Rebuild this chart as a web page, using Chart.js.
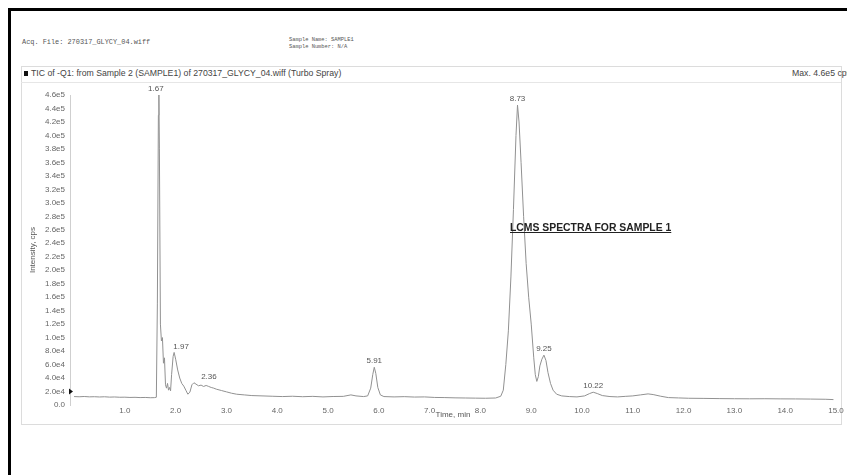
<!DOCTYPE html>
<html>
<head>
<meta charset="utf-8">
<title>LCMS TIC - SAMPLE1</title>
<script src="https://cdn.jsdelivr.net/npm/chart.js@4.4.1/dist/chart.umd.min.js"></script>
<style>
  html, body { margin: 0; padding: 0; background: #fff; }
  #page { position: relative; width: 847px; height: 475px; overflow: hidden; background: #fff; }
  #frame { position: absolute; left: 8px; top: 8px; width: 860px; height: 480px;
           border-top: 3px solid #000; border-left: 3px solid #000; }
  #panel { position: absolute; left: 21px; top: 66px; width: 819px; height: 357px;
           border: 1px solid #dcdcdc; }
  #panelHead { position: absolute; left: 21px; top: 82px; width: 820px; height: 0;
               border-top: 1px solid #e6e6e6; }
  canvas { position: absolute; left: 0; top: 0; }
  .mono { position: absolute; font-family: "Liberation Mono", "DejaVu Sans Mono", monospace;
          color: #555; white-space: pre; line-height: 7px; }
  .sans { position: absolute; font-family: "Liberation Sans", Arial, sans-serif;
          font-size: 8.7px; color: #444; white-space: pre; }
  #note { position: absolute; left: 510px; top: 222px; font-family: "Liberation Sans", Arial, sans-serif;
          font-weight: bold; font-size: 10.4px; color: #222; text-decoration: underline; white-space: pre; }
  #sq { display: inline-block; width: 4px; height: 5px; background: #111; margin-right: 3px; vertical-align: 0px; }
</style>
</head>
<body>
<div id="page">
  <div id="frame"></div>
  <div id="panel"></div>
  <div id="panelHead"></div>
  <div class="mono" style="left:22px; top:39px; font-size:6.9px;">Acq. File: 270317_GLYCY_04.wiff</div>
  <div class="mono" style="left:289px; top:37px; font-size:5.4px;">Sample Name: SAMPLE1
Sample Number: N/A</div>
  <div class="sans" style="left:24px; top:68px;"><span id="sq"></span>TIC of -Q1: from Sample 2 (SAMPLE1) of 270317_GLYCY_04.wiff (Turbo Spray)</div>
  <div class="sans" style="left:792px; top:68px;">Max. 4.6e5 cps</div>
  <canvas id="tic" width="847" height="475"></canvas>
  <div id="note">LCMS SPECTRA FOR SAMPLE 1</div>
</div>
<script>
// Total ion chromatogram: retention time (min) and intensity (cps)
const retentionTimes = [
  0.00, 0.10, 0.20, 0.30, 0.40, 0.50, 0.60, 0.70, 0.80, 0.90,
  1.00, 1.10, 1.20, 1.30, 1.40, 1.50, 1.58, 1.62, 1.64, 1.66,
  1.67, 1.68, 1.70, 1.72, 1.74, 1.76, 1.78, 1.80, 1.82, 1.84,
  1.86, 1.88, 1.90, 1.92, 1.95, 1.97, 2.00, 2.04, 2.08, 2.12,
  2.16, 2.20, 2.24, 2.28, 2.32, 2.36, 2.40, 2.45, 2.50, 2.55,
  2.60, 2.65, 2.70, 2.75, 2.80, 2.90, 3.00, 3.10, 3.20, 3.35,
  3.50, 3.70, 3.90, 4.10, 4.30, 4.50, 4.70, 4.90, 5.10, 5.30,
  5.45, 5.55, 5.70, 5.78, 5.84, 5.88, 5.91, 5.94, 5.98, 6.03,
  6.10, 6.30, 6.50, 6.70, 6.90, 7.10, 7.30, 7.50, 7.70, 7.90,
  8.10, 8.30, 8.40, 8.45, 8.50, 8.55, 8.60, 8.65, 8.70, 8.73,
  8.76, 8.80, 8.85, 8.90, 8.95, 9.00, 9.05, 9.08, 9.11, 9.14,
  9.17, 9.21, 9.25, 9.29, 9.33, 9.38, 9.43, 9.50, 9.60, 9.75,
  9.90, 10.05, 10.15, 10.22, 10.30, 10.40, 10.55, 10.70, 10.85, 11.00,
  11.15, 11.30, 11.40, 11.55, 11.70, 11.90, 12.10, 12.40, 12.70, 13.00,
  13.30, 13.60, 13.90, 14.20, 14.50, 14.80, 14.95
];
const intensities = [
  12500, 12200, 12600, 12100, 12300, 11900, 12200, 11700, 11900, 11500,
  11600, 11200, 11400, 11000, 11200, 10800, 10900, 11500, 150000, 430000,
  460000, 380000, 120000, 95000, 100000, 62000, 70000, 30000, 25000, 32000,
  22000, 26000, 21000, 45000, 72000, 78000, 68000, 52000, 40000, 32000,
  28000, 22000, 16000, 19000, 30000, 33000, 31000, 28500, 29500, 27500,
  29000, 27500, 26000, 25000, 23500, 21500, 19500, 17500, 16000, 15000,
  14000, 13500, 13000, 12500, 13000, 12300, 12800, 12000, 12600, 12800,
  15000, 13500, 12500, 13500, 25000, 45000, 56000, 47000, 26000, 15000,
  12500, 12000, 12400, 11800, 12000, 11200, 11000, 10600, 10400, 10200,
  10000, 10400, 13000, 22000, 60000, 110000, 190000, 290000, 400000, 445000,
  420000, 360000, 280000, 210000, 160000, 120000, 70000, 45000, 35000, 42000,
  58000, 68000, 74000, 66000, 48000, 32000, 22000, 16000, 13500, 12500,
  12000, 13500, 17000, 19000, 17000, 14000, 12500, 12000, 12800, 13500,
  15000, 16500, 15500, 13000, 11000, 10500, 10000, 9800, 9500, 9300,
  9200, 9300, 9100, 9000, 8800, 8500, 8000
];

// Apex retention times that get a label
const peakTimes = [1.67, 1.97, 2.36, 5.91, 8.73, 9.25, 10.22];

// Axis ticks
const xTickValues = [1, 2, 3, 4, 5, 6, 7, 8, 9, 10, 11, 12, 13, 14, 15];
const yTickMax = 460000;
const yTickStep = 20000;

// Horizontal nudges (px) for labels that would otherwise sit on the trace
const peakLabelNudge = { '1.97': 7, '2.36': 15, '1.67': -3 };

function sciLabel(v) {
  if (v === 0) return '0.0';
  const e = Math.floor(Math.log10(v) + 1e-9);
  return (v / Math.pow(10, e)).toFixed(1) + 'e' + e;
}

const peakLabels = {
  id: 'peakLabels',
  afterDatasetsDraw(chart) {
    const { ctx, scales: { x, y } } = chart;
    ctx.save();
    ctx.font = '8px "Liberation Sans", Arial, sans-serif';
    ctx.fillStyle = '#555';
    ctx.textAlign = 'center';
    ctx.textBaseline = 'bottom';
    peakTimes.forEach(t => {
      const i = retentionTimes.indexOf(t);
      const txt = t.toFixed(2);
      const px = x.getPixelForValue(t) + (peakLabelNudge[txt] || 0);
      const py = y.getPixelForValue(intensities[i]) - 2;
      ctx.fillText(txt, px, py);
    });
    // threshold marker on the intensity axis
    const my = y.getPixelForValue(yTickStep);
    const mx = x.left;
    ctx.fillStyle = '#111';
    ctx.beginPath();
    ctx.moveTo(mx - 1, my - 3);
    ctx.lineTo(mx + 3, my);
    ctx.lineTo(mx - 1, my + 3);
    ctx.closePath();
    ctx.fill();
    ctx.restore();
  }
};

const points = retentionTimes.map((t, i) => ({ x: t, y: intensities[i] }));

new Chart(document.getElementById('tic'), {
  type: 'line',
  data: {
    datasets: [{
      data: points,
      borderColor: '#919191',
      borderWidth: 1,
      pointRadius: 0,
      tension: 0,
      fill: false
    }]
  },
  options: {
    responsive: false,
    animation: false,
    devicePixelRatio: 1,
    layout: { padding: { left: 20, top: 95, right: 11, bottom: 0 } },
    plugins: { legend: { display: false }, tooltip: { enabled: false } },
    scales: {
      x: {
        type: 'linear',
        min: -0.08,
        max: 15,
        afterFit(s) { s.height = 70; },
        afterBuildTicks(s) { s.ticks = xTickValues.map(v => ({ value: v })); },
        grid: { display: false, drawTicks: false },
        border: { display: false },
        ticks: {
          autoSkip: false,
          maxRotation: 0,
          padding: 1,
          color: '#666',
          font: { family: '"Liberation Sans", Arial, sans-serif', size: 8 },
          callback: v => v.toFixed(1)
        },
        title: {
          display: true,
          text: 'Time, min',
          color: '#555',
          font: { family: '"Liberation Sans", Arial, sans-serif', size: 8 },
          padding: { top: 0, bottom: 55 }
        }
      },
      y: {
        min: 0,
        max: yTickMax,
        afterFit(s) { s.width = 50; },
        grid: { display: false, drawTicks: false },
        border: { display: true, color: '#cfcfcf', width: 1 },
        ticks: {
          stepSize: yTickStep,
          autoSkip: false,
          padding: 5,
          color: '#666',
          font: { family: '"Liberation Sans", Arial, sans-serif', size: 8 },
          callback: v => sciLabel(v)
        },
        title: {
          display: true,
          text: 'Intensity, cps',
          color: '#555',
          font: { family: '"Liberation Sans", Arial, sans-serif', size: 8 },
          padding: { top: 8, bottom: 0 }
        }
      }
    }
  },
  plugins: [peakLabels]
});
</script>
</body>
</html>
